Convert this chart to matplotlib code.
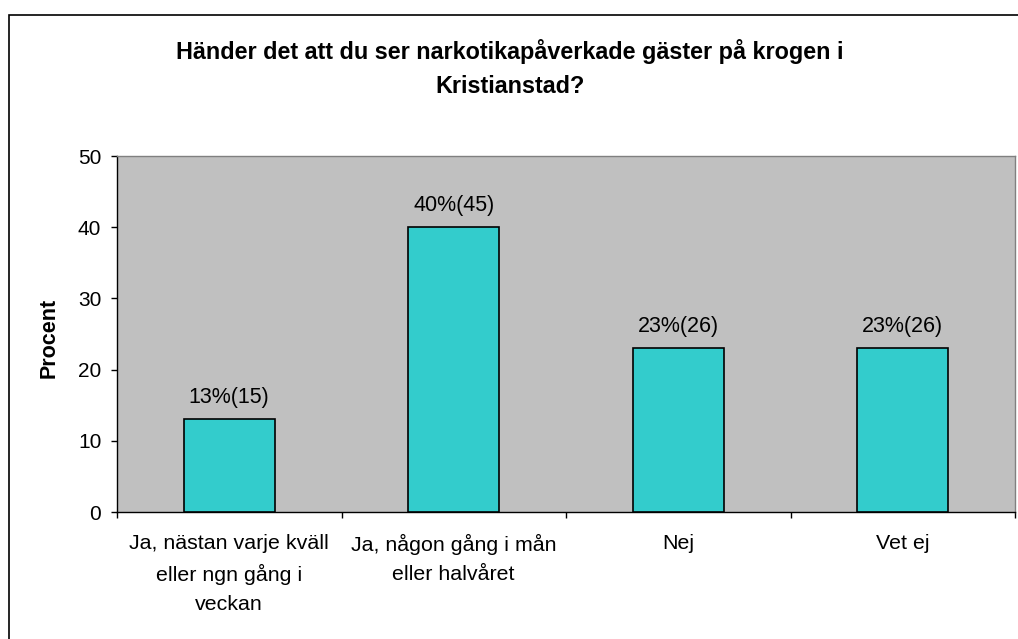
import matplotlib
matplotlib.use("Agg")
import matplotlib.pyplot as plt
from matplotlib.patches import Rectangle

plt.rcParams['font.family'] = ['Liberation Sans', 'DejaVu Sans']

categories = ["Ja, nästan varje kväll\neller ngn gång i\nveckan",
              "Ja, någon gång i mån\neller halvåret",
              "Nej",
              "Vet ej"]
values = [13, 40, 23, 23]
labels = ["13%(15)", "40%(45)", "23%(26)", "23%(26)"]
yticks = [0, 10, 20, 30, 40, 50]
title = "Händer det att du ser narkotikapåverkade gäster på krogen i\nKristianstad?"
ylabel = "Procent"

W, H = 1018, 639
fig = plt.figure(figsize=(W / 100, H / 100), dpi=100)
fig.patch.set_facecolor("white")

# outer chart frame (extends beyond right/bottom edges)
fig.patches.append(Rectangle((9 / W, -0.05), 1.1, (H - 15) / H + 0.05,
                             transform=fig.transFigure, fill=False,
                             edgecolor="black", linewidth=1.2))

ax = fig.add_axes([117 / W, (H - 512) / H, (1015 - 117) / W, (512 - 156) / H])
ax.set_facecolor("#C0C0C0")

x = list(range(len(categories)))
bars = ax.bar(x, values, width=0.405, color="#33CCCC", edgecolor="black", linewidth=1.2, zorder=3)
for xi, v, lab in zip(x, values, labels):
    ax.annotate(lab, (xi, v), xytext=(0, 8), textcoords="offset points",
                ha="center", va="bottom", fontsize=15.5)

ax.set_xlim(-0.5, len(categories) - 0.5)
ax.set_ylim(0, 50)
ax.set_yticks(yticks)
ax.set_xticks(x)
ax.set_xticklabels(categories, fontsize=15.4, linespacing=1.65)
ax.set_xticks([i - 0.5 for i in range(len(categories) + 1)], minor=True)
ax.tick_params(axis="x", which="major", length=0, pad=16)
ax.tick_params(axis="x", which="minor", length=4.3, width=1, color="black")
ax.tick_params(axis="y", labelsize=15, length=4.3, width=1, pad=7)

for s in ["left", "bottom"]:
    ax.spines[s].set_color("black")
    ax.spines[s].set_linewidth(1.0)
for s in ["top", "right"]:
    ax.spines[s].set_color("#808080")
    ax.spines[s].set_linewidth(1.0)

fig.text(49.5 / W, (H - 338) / H, ylabel, rotation=90, ha="center", va="center",
         fontsize=15.5, fontweight="bold")
fig.text(510 / W, (H - 68.5) / H, title, ha="center", va="center",
         fontsize=16.8, fontweight="bold", linespacing=1.58)

fig.savefig("out.png", dpi=100)
